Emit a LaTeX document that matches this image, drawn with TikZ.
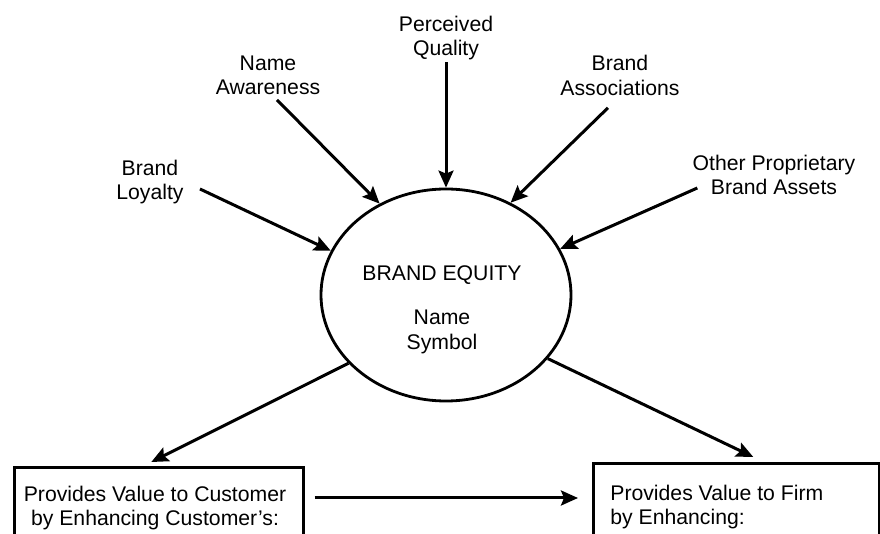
\documentclass[tikz,border=0pt]{standalone}
\usepackage{fontspec}
\setmainfont{Liberation Sans}
\usetikzlibrary{shapes.geometric,arrows.meta}
\tikzset{
  brand equity diagram/.style={
    x=0.5pt,
    y=-0.5pt,
    font=\fontsize{10.6}{12.1}\selectfont,
    label text/.style={
      align=center,
      inner sep=0pt,
    },
    equity oval/.style={
      ellipse,
      draw,
      line width=1.4pt,
      minimum width=125pt,
      minimum height=106pt,
      inner sep=0pt,
    },
    value box/.style={
      draw,
      line width=1.3pt,
      anchor=north west,
      minimum height=60pt,
      inner sep=0pt,
    },
    push arrow/.style={
      line width=1.5pt,
      -{Stealth[length=8.5pt,width=7.5pt,inset=1.5pt]},
    },
  }
}

\begin{document}
\begin{tikzpicture}[
  brand equity diagram,
]

\useasboundingbox (0,0) rectangle (880,534);
\clip (0,0) rectangle (880,534);

\node [label text] (loyalty) at (150,182) {Brand\\Loyalty};
\node [label text] (awareness) at (268,75) {Name\\Awareness};
\node [label text] (quality) at (446,38) {Perceived\\Quality};
\node [label text] (associations) at (620,75.5) {Brand\\Associations};
\node [label text] (assets) at (774,175) {Other Proprietary\\Brand Assets};

\node [equity oval] (equity) at (446,295) {};
\node [label text] (equitytitle) at (442,275) {BRAND EQUITY};
\node [label text] (equityname) at (442,332) {Name\\Symbol};

\node [value box, minimum width=144.5pt] (custbox) at (13,466) {};
\node [value box, minimum width=143pt] (firmbox) at (592,462) {};
\node [label text, anchor=north] (custtext) at (155,485.5)
  {Provides Value to Customer\\by Enhancing Customer’s:};
\node [label text, align=left, anchor=north west] (firmtext) at (610,484.5)
  {Provides Value to Firm\\by Enhancing:};

\draw [push arrow] ([shift={(16,7)}]loyalty.east) -- (equity.159);
\draw [push arrow] ([shift={(9,5)}]awareness.south) -- (equity.126);
\draw [push arrow] ([shift={(0,2)}]quality.south) -- (equity.90);
\draw [push arrow] ([shift={(-12,12)}]associations.south) -- (equity.55);
\draw [push arrow] ([shift={(5,13)}]assets.west) -- (equity.22);

\draw [push arrow] (equity.215) -- ([shift={(-7.5,-4)}]custbox.north);
\draw [push arrow] (equity.328) -- ([shift={(17,-5)}]firmbox.north);
\draw [push arrow] ([shift={(10,32)}]custbox.north east)
  -- ([shift={(-14,36)}]firmbox.north west);
\end{tikzpicture}
\end{document}
